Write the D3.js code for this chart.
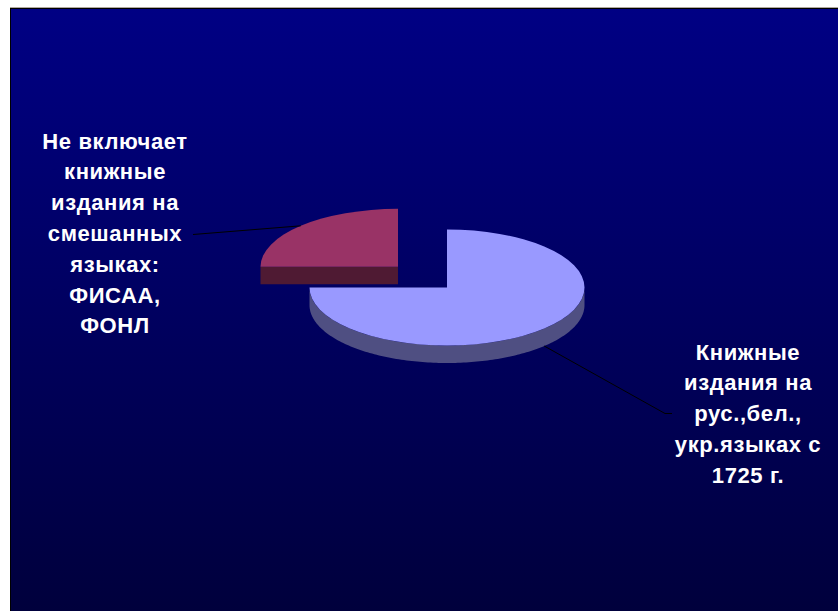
<!DOCTYPE html>
<html><head><meta charset="utf-8">
<script src="https://cdn.jsdelivr.net/npm/d3@7"></script>
<style>html,body{margin:0;padding:0;background:#fff;}svg{display:block;}</style>
</head><body>
<svg id="chart" width="838" height="611"></svg>
<script>
// ---- data ----
const categories = ["Книжные издания на рус.,бел., укр.языках с 1725 г.", "Не включает книжные издания на смешанных языках: ФИСАА, ФОНЛ"];
const values = [75, 25];
const exploded = [false, true];
const labelLines = [
  ["Книжные", "издания на", "рус.,бел.,", "укр.языках с", "1725 г."],
  ["Не включает", "книжные", "издания на", "смешанных", "языках:", "ФИСАА,", "ФОНЛ"]
];
const topColors = ["#9999FF", "#993366"];
const sideColors = ["#4F4F82", "#4F1A33"];

// ---- layout ----
const svg = d3.select("#chart");
const W = 838, H = 611;
const cx = 447, cy = 287.5, rx = 137.5, ry = 58, depth = 17.5;
const k = ry / rx;
const explodeR = 69.3;

const defs = svg.append("defs");
const grad = defs.append("linearGradient").attr("id", "bg").attr("x1", 0).attr("y1", 0).attr("x2", 0).attr("y2", 1);
grad.append("stop").attr("offset", "0%").attr("stop-color", "#000084");
grad.append("stop").attr("offset", "100%").attr("stop-color", "#00003C");

svg.append("rect").attr("x", 10).attr("y", 7).attr("width", W - 10).attr("height", H - 7).attr("fill", "url(#bg)");
svg.append("line").attr("x1", 10).attr("x2", W).attr("y1", 7.5).attr("y2", 7.5).attr("stroke", "#B0A8A0").attr("stroke-width", 1);
svg.append("line").attr("x1", 10).attr("x2", W).attr("y1", 8.5).attr("y2", 8.5).attr("stroke", "#000").attr("stroke-width", 1);
svg.append("line").attr("x1", 10.5).attr("x2", 10.5).attr("y1", 8).attr("y2", H).attr("stroke", "#000").attr("stroke-width", 1);

const pie = d3.pie().sort(null).startAngle(0).endAngle(2 * Math.PI);
const arcs = pie(values);

// point on ellipse for d3 angle a
const px = a => Math.sin(a) * rx;
const py = a => -Math.cos(a) * ry;

function offsetOf(d, i) {
  if (!exploded[i]) return [0, 0];
  const m = (d.startAngle + d.endAngle) / 2;
  return [Math.sin(m) * explodeR, -Math.cos(m) * explodeR * k];
}

function ellipsePts(a0, a1, dy) {
  const n = Math.max(2, Math.ceil((a1 - a0) / 0.02));
  const pts = [];
  for (let j = 0; j <= n; j++) {
    const a = a0 + (a1 - a0) * j / n;
    pts.push([px(a), py(a) + dy]);
  }
  return pts;
}

const arcGen = d3.arc().innerRadius(0).outerRadius(rx);
const line = d3.line();

// draw back slice first (exploded one sits behind)
const order = [1, 0];
const g = svg.append("g");
order.forEach(i => {
  const d = arcs[i];
  const [ox, oy] = offsetOf(d, i);
  const sg = g.append("g").attr("transform", `translate(${cx + ox},${cy + oy})`);
  // radial cut faces (visible if they face the viewer)
  [[d.startAngle, 1], [d.endAngle, -1]].forEach(([a, s]) => {
    const nAng = a - s * Math.PI / 2;
    const ny = -Math.cos(nAng);
    if (ny > 0.01) {
      const pts = [[0, 0], [px(a), py(a)], [px(a), py(a) + depth], [0, depth]];
      sg.append("path").attr("d", line(pts) + "Z").attr("fill", sideColors[i]);
    }
  });
  // outer wall, visible between PI/2 and 3PI/2
  const a0 = Math.max(d.startAngle, Math.PI / 2), a1 = Math.min(d.endAngle, 3 * Math.PI / 2);
  if (a1 > a0) {
    const top = ellipsePts(a0, a1, 0);
    const bot = ellipsePts(a0, a1, depth).reverse();
    sg.append("path").attr("d", line(top.concat(bot)) + "Z").attr("fill", sideColors[i]);
  }
  // top face
  sg.append("path").attr("d", arcGen(d)).attr("transform", `scale(1,${k})`).attr("fill", topColors[i]);
});

// leader lines
const d1 = arcs[1], o1 = offsetOf(d1, 1), m1 = (d1.startAngle + d1.endAngle) / 2;
svg.append("path").attr("fill", "none").attr("stroke", "#000").attr("stroke-width", 1)
  .attr("d", line([[cx + o1[0] + px(m1), cy + o1[1] + py(m1)], [193, 234.5]]));
const d0 = arcs[0], m0 = (d0.startAngle + d0.endAngle) / 2;
svg.append("path").attr("fill", "none").attr("stroke", "#000").attr("stroke-width", 1)
  .attr("d", line([[cx + px(m0), cy + py(m0) + depth], [665, 413.5], [672, 413.5]]));

// labels
const labelPos = [[748, 359.5], [115, 148.5]];
labelLines.forEach((lines, i) => {
  const t = svg.append("text").attr("x", labelPos[i][0]).attr("y", labelPos[i][1])
    .attr("text-anchor", "middle").attr("fill", "#fff")
    .attr("font-family", "'Liberation Sans', Arial, sans-serif").attr("font-weight", "bold")
    .attr("font-size", 22).attr("letter-spacing", 0.6);
  lines.forEach((s, j) => {
    t.append("tspan").attr("x", labelPos[i][0]).attr("dy", j === 0 ? 0 : 30.8).text(s);
  });
});
</script>
</body></html>
